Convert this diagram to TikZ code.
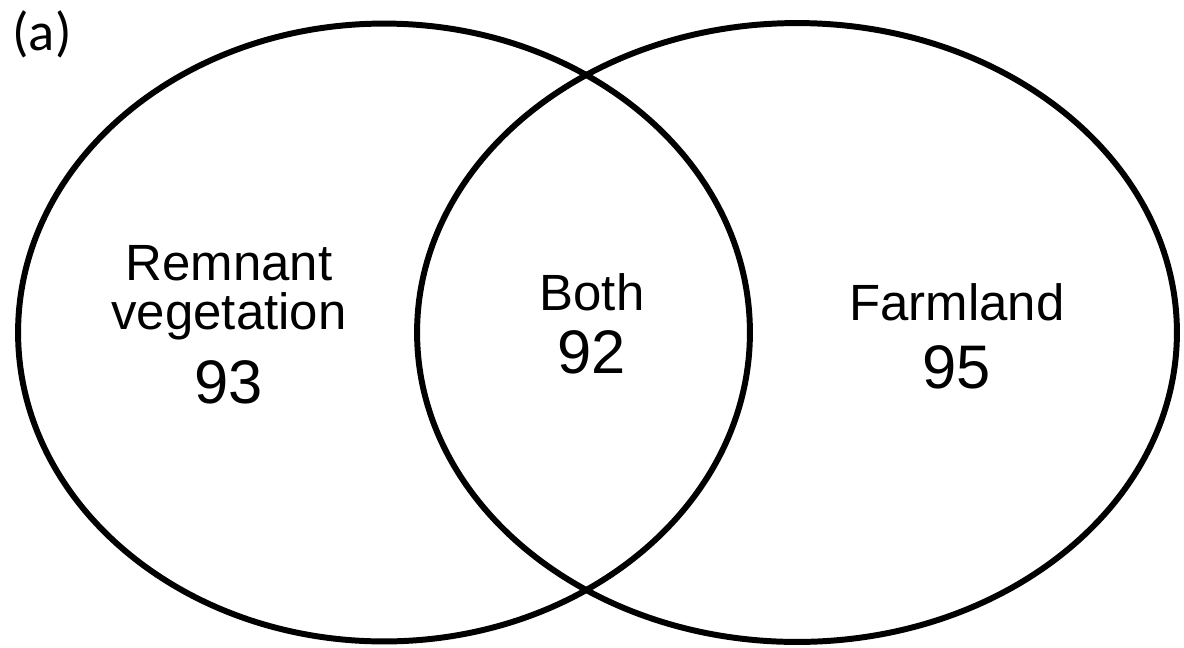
\documentclass[tikz,border=0pt]{standalone}
\usepackage{fontspec}
\setmainfont{Liberation Sans}
\newfontfamily\panelfont{Carlito}
\usetikzlibrary{shapes.geometric,positioning}

\begin{document}
\begin{tikzpicture}[x=0.02cm, y=-0.02cm, set/.style={draw,ellipse,line width=3.4pt,inner sep=0pt}, lbl/.style={font=\fontsize{29}{32}\selectfont,inner sep=0pt}, count/.style={font=\fontsize{35}{38}\selectfont,inner sep=0pt}]
\useasboundingbox (0,0) rectangle (1184,647);
\node[set,minimum width=14.64cm,minimum height=12.36cm] (remnant) at (384,332.5) {};
\node[set,minimum width=15.2cm,minimum height=12.38cm] (farm) at (797,332.5) {};
\node[font=\panelfont\fontsize{31}{33}\selectfont,inner sep=0pt] (panel) at (42,34) {(a)};
\node[lbl] (remlbl) at (229,263) {Remnant};
\node[lbl,below=6.5pt of remlbl] (veglbl) {vegetation};
\node[count,below=0.38cm of veglbl] (remn) {93};
\node[lbl] (bothlbl) at (592,292) {Both};
\node[count,below=0.38cm of bothlbl] (bothn) {92};
\node[lbl] (farmlbl) at (957,302) {Farmland};
\node[count,below=0.48cm of farmlbl] (farmn) {95};
\end{tikzpicture}
\end{document}
